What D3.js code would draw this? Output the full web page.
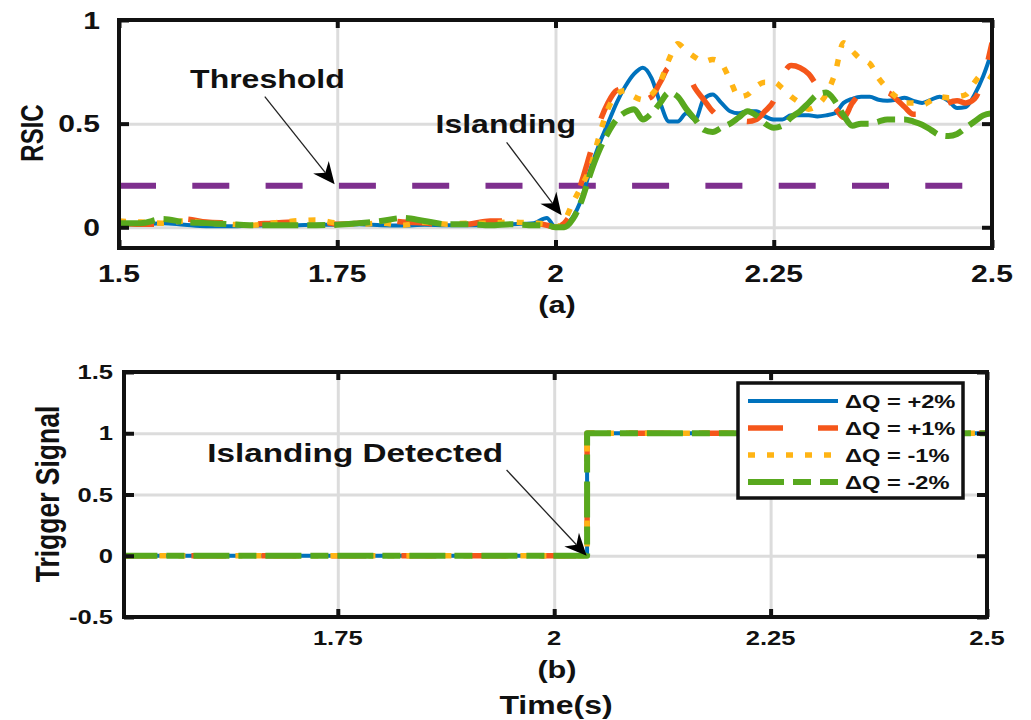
<!DOCTYPE html>
<html>
<head>
<meta charset="utf-8">
<script src="https://cdn.jsdelivr.net/npm/d3@7"></script>
<style>
  body { margin: 0; background: #fff; }
  text { font-family: "Liberation Sans", Arial, sans-serif; font-weight: bold; fill: #111; }
</style>
</head>
<body>
<svg id="chart" width="1031" height="720"></svg>
<script>
// ---- data ----
var time = [1.5,1.525,1.55,1.575,1.6,1.625,1.65,1.675,1.7,1.725,1.75,1.775,1.8,1.825,1.85,1.875,1.9,1.925,1.95,1.975,1.99,2.0,
  2.01,2.02,2.03,2.04,2.05,2.06,2.07,2.08,2.09,2.1,
  2.11,2.12,2.13,2.14,2.15,2.16,2.17,2.18,2.19,2.2,
  2.21,2.22,2.23,2.24,2.25,2.26,2.27,2.28,2.29,2.3,
  2.31,2.32,2.33,2.34,2.35,2.36,2.37,2.38,2.39,2.4,
  2.41,2.42,2.43,2.44,2.45,2.46,2.47,2.48,2.49,2.5]

var rsicPlus2 = [0.015,0.015,0.02,0.012,0.005,0.005,0.008,0.01,0.01,0.012,0.012,0.015,0.01,0.008,0.012,0.01,0.01,0.012,0.015,0.02,0.045,0.0,
  0.01,0.05,0.14,0.28,0.4,0.5,0.6,0.68,0.74,0.77,
  0.72,0.6,0.51,0.51,0.55,0.52,0.62,0.64,0.6,0.56,
  0.55,0.56,0.56,0.535,0.52,0.52,0.54,0.54,0.54,0.535,
  0.54,0.55,0.6,0.62,0.63,0.63,0.615,0.61,0.615,0.625,
  0.61,0.6,0.615,0.63,0.61,0.575,0.58,0.64,0.73,0.85]

var rsicPlus1 = [0.02,0.015,0.015,0.04,0.025,0.02,0.015,0.02,0.025,0.03,0.015,0.02,0.035,0.025,0.02,0.01,0.015,0.03,0.03,0.02,0.01,0.0,
  0.02,0.09,0.22,0.36,0.5,0.6,0.66,0.67,0.63,0.615,
  0.63,0.7,0.77,0.77,0.75,0.67,0.615,0.56,0.53,0.53,
  0.52,0.51,0.52,0.56,0.61,0.73,0.78,0.77,0.74,0.68,
  0.63,0.58,0.53,0.6,0.64,0.63,0.64,0.65,0.62,0.58,
  0.545,0.545,0.55,0.575,0.6,0.61,0.6,0.62,0.72,0.89]

var rsicMinus1 = [0.03,0.025,0.02,0.03,0.02,0.015,0.01,0.02,0.03,0.035,0.02,0.015,0.02,0.01,0.025,0.015,0.02,0.02,0.025,0.02,0.015,0.0,
  0.03,0.12,0.2,0.29,0.44,0.57,0.64,0.66,0.63,0.615,
  0.64,0.7,0.81,0.885,0.85,0.82,0.8,0.81,0.79,0.71,
  0.63,0.64,0.68,0.7,0.7,0.67,0.63,0.6,0.57,0.59,
  0.64,0.74,0.89,0.85,0.81,0.79,0.72,0.67,0.63,0.6,
  0.6,0.59,0.61,0.63,0.625,0.63,0.64,0.7,0.74,0.72]

var rsicMinus2 = [0.02,0.02,0.04,0.025,0.02,0.015,0.01,0.01,0.01,0.01,0.012,0.02,0.03,0.045,0.03,0.015,0.015,0.01,0.015,0.01,0.01,0.0,
  0.0,0.04,0.13,0.26,0.37,0.455,0.52,0.555,0.57,0.52,
  0.55,0.6,0.65,0.63,0.57,0.52,0.47,0.46,0.48,0.5,
  0.53,0.56,0.54,0.5,0.48,0.49,0.53,0.56,0.6,0.64,
  0.65,0.61,0.54,0.49,0.5,0.5,0.51,0.52,0.52,0.52,
  0.51,0.495,0.47,0.445,0.44,0.45,0.48,0.51,0.54,0.55]

var threshold = 0.2

var trigTime = [1.5, 2.038, 2.5]
var trigPlus2 = [0, 1, 1]
var trigPlus1 = [0, 1, 1]
var trigMinus1 = [0, 1, 1]
var trigMinus2 = [0, 1, 1]

var labels = ["\u0394Q = +2%", "\u0394Q = +1%", "\u0394Q = -1%", "\u0394Q = -2%"]

var xTicksA = [1.5, 1.75, 2, 2.25, 2.5]
var yTicksA = [0, 0.5, 1]
var xTicksB = [1.75, 2, 2.25, 2.5]
var yTicksB = [-0.5, 0, 0.5, 1, 1.5]

// ---- styles ----
var colors = ["#0072BD", "#F5561A", "#FFB414", "#58A81E"]
var dashes = [null, "35,35", "7,12", "36,9,18,9"]
var widths = [4, 5.5, 5.5, 6]
var sx = 1.28   // the source figure is stretched sideways

var svg = d3.select("#chart")

var xA = d3.scaleLinear().domain([1.5, 2.5]).range([119, 992])
var yA = d3.scaleLinear().domain([-0.1, 1]).range([248, 20])
var xB = d3.scaleLinear().domain([1.503, 2.5]).range([124, 987])
var yB = d3.scaleLinear().domain([-0.5, 1.5]).range([617, 372])

function stretched(g, x, y, str, size, anchor) {
  return g.append("text")
          .attr("transform", "translate(" + x + "," + y + ") scale(" + sx + ",1)")
          .attr("font-size", size)
          .attr("text-anchor", anchor || "middle")
          .text(str)
}

function grid(g, x, y, xt, yt) {
  var x0 = x.range()[0], x1 = x.range()[1]
  var y0 = y.range()[0], y1 = y.range()[1]
  g.append("g").attr("transform", "translate(0," + y0 + ")")
   .call(d3.axisBottom(x).tickValues(xt).tickSize(-(y0 - y1)).tickFormat(""))
  g.append("g").attr("transform", "translate(" + x0 + ",0)")
   .call(d3.axisLeft(y).tickValues(yt).tickSize(-(x1 - x0)).tickFormat(""))
  g.selectAll(".domain").remove()
  g.selectAll(".tick line").attr("stroke", "#dcdcdc").attr("stroke-width", 3)
}

function frame(g, x, y, xt, yt) {
  var x0 = x.range()[0], x1 = x.range()[1]
  var y0 = y.range()[0], y1 = y.range()[1]
  g.append("g").attr("transform", "translate(0," + y0 + ")")
   .call(d3.axisBottom(x).tickValues(xt).tickSize(-8).tickFormat(""))
  g.append("g").attr("transform", "translate(0," + y1 + ")")
   .call(d3.axisTop(x).tickValues(xt).tickSize(-8).tickFormat(""))
  g.append("g").attr("transform", "translate(" + x0 + ",0)")
   .call(d3.axisLeft(y).tickValues(yt).tickSize(-10).tickFormat(""))
  g.append("g").attr("transform", "translate(" + x1 + ",0)")
   .call(d3.axisRight(y).tickValues(yt).tickSize(-10).tickFormat(""))
  g.selectAll(".domain").remove()
  g.selectAll(".tick line").attr("stroke", "#111").attr("stroke-width", 4)
  g.append("rect")
   .attr("x", x0).attr("y", y1)
   .attr("width", x1 - x0).attr("height", y0 - y1)
   .attr("fill", "none").attr("stroke", "#111").attr("stroke-width", 4)
}

function arrow(g, x1, y1, x2, y2) {
  var ang = Math.atan2(y2 - y1, x2 - x1)
  var len = 22, half = 10, notch = 7
  var bx = x2 - len * Math.cos(ang), by = y2 - len * Math.sin(ang)
  var nx = x2 - (len - notch) * Math.cos(ang), ny = y2 - (len - notch) * Math.sin(ang)
  g.append("line")
   .attr("x1", x1).attr("y1", y1).attr("x2", nx).attr("y2", ny)
   .attr("stroke", "#222").attr("stroke-width", 1.3)
  var pts = [[x2, y2],
             [bx - half * Math.sin(ang), by + half * Math.cos(ang)],
             [nx, ny],
             [bx + half * Math.sin(ang), by - half * Math.cos(ang)]]
  g.append("path").attr("d", "M" + pts.join("L") + "Z").attr("fill", "#000")
}

var clip = svg.append("defs")
clip.append("clipPath").attr("id", "clipA").append("rect")
    .attr("x", 119).attr("y", 20).attr("width", 873).attr("height", 228)
clip.append("clipPath").attr("id", "clipB").append("rect")
    .attr("x", 124).attr("y", 372).attr("width", 863).attr("height", 245)

// ================= panel (a) =================
var panelA = svg.append("g")
grid(panelA.append("g"), xA, yA, xTicksA, yTicksA)

var rsic = [rsicPlus2, rsicPlus1, rsicMinus1, rsicMinus2]
var lineA = d3.line()
              .x(function(d) { return xA(d[0]) })
              .y(function(d) { return yA(d[1]) })
              .curve(d3.curveMonotoneX)

var linesA = panelA.append("g").attr("clip-path", "url(#clipA)")

linesA.append("path")
      .attr("d", lineA([[xA.domain()[0], threshold], [xA.domain()[1], threshold]]))
      .attr("fill", "none")
      .attr("stroke", "#7E2F8E")
      .attr("stroke-width", 6)
      .attr("stroke-dasharray", "37,36.3")

rsic.forEach(function(vals, i) {
  linesA.append("path")
        .attr("d", lineA(time.map(function(t, k) { return [t, vals[k]] })))
        .attr("fill", "none")
        .attr("stroke", colors[i])
        .attr("stroke-width", widths[i])
        .attr("stroke-dasharray", dashes[i])
        .attr("stroke-linejoin", "round")
})

frame(panelA.append("g"), xA, yA, xTicksA, yTicksA)

xTicksA.forEach(function(d) { stretched(panelA, xA(d), 282, d, 23.5) })
yTicksA.forEach(function(d) { stretched(panelA, 100, yA(d) + 8.5, d, 23.5, "end") })

panelA.append("text")
      .attr("transform", "translate(32,133) scale(" + sx + ",1) rotate(-90)")
      .attr("font-size", 24).attr("text-anchor", "middle").attr("dy", "0.35em")
      .text("RSIC")
stretched(panelA, 557, 313, "(a)", 24)

stretched(panelA, xA(1.67), yA(0.673), "Threshold", 25)
arrow(panelA, xA(1.667), yA(0.63), xA(1.747), yA(0.207))
stretched(panelA, xA(1.943), yA(0.457), "Islanding", 25)
arrow(panelA, xA(1.944), yA(0.41), xA(2.007), yA(0.058))

// ================= panel (b) =================
var panelB = svg.append("g")
grid(panelB.append("g"), xB, yB, xTicksB, yTicksB)

var trig = [trigPlus2, trigPlus1, trigMinus1, trigMinus2]
var lineB = d3.line()
              .x(function(d) { return xB(d[0]) })
              .y(function(d) { return yB(d[1]) })
              .curve(d3.curveStepAfter)

var linesB = panelB.append("g").attr("clip-path", "url(#clipB)")
trig.forEach(function(vals, i) {
  linesB.append("path")
        .attr("d", lineB(trigTime.map(function(t, k) { return [t, vals[k]] })))
        .attr("fill", "none")
        .attr("stroke", colors[i])
        .attr("stroke-width", widths[i])
        .attr("stroke-dasharray", dashes[i])
        .attr("stroke-linejoin", "round")
})

frame(panelB.append("g"), xB, yB, xTicksB, yTicksB)

xTicksB.forEach(function(d) { stretched(panelB, xB(d), 645, d, 20) })
yTicksB.forEach(function(d) { stretched(panelB, 113, yB(d) + 7, d, 20, "end") })

panelB.append("text")
      .attr("transform", "translate(47,494) scale(" + sx + ",1) rotate(-90)")
      .attr("font-size", 26.5).attr("text-anchor", "middle").attr("dy", "0.35em")
      .text("Trigger Signal")
stretched(panelB, 557, 678, "(b)", 24)
stretched(panelB, 556, 714, "Time(s)", 25)

stretched(panelB, xB(1.77), yB(0.766), "Islanding Detected", 26)
arrow(panelB, xB(1.945), yB(0.70), xB(2.0375), yB(0.0))

// legend
var legend = panelB.append("g").attr("transform", "translate(738,383)")
legend.append("rect")
      .attr("width", 225).attr("height", 115)
      .attr("fill", "#fff").attr("stroke", "#111").attr("stroke-width", 3.5)
labels.forEach(function(lab, i) {
  var ly = 18 + i * 27
  legend.append("line")
        .attr("x1", 10).attr("x2", 100).attr("y1", ly).attr("y2", ly)
        .attr("stroke", colors[i])
        .attr("stroke-width", widths[i])
        .attr("stroke-dasharray", dashes[i])
  stretched(legend, 107, ly + 7, lab, 18.5, "start")
})
</script>
</body>
</html>
